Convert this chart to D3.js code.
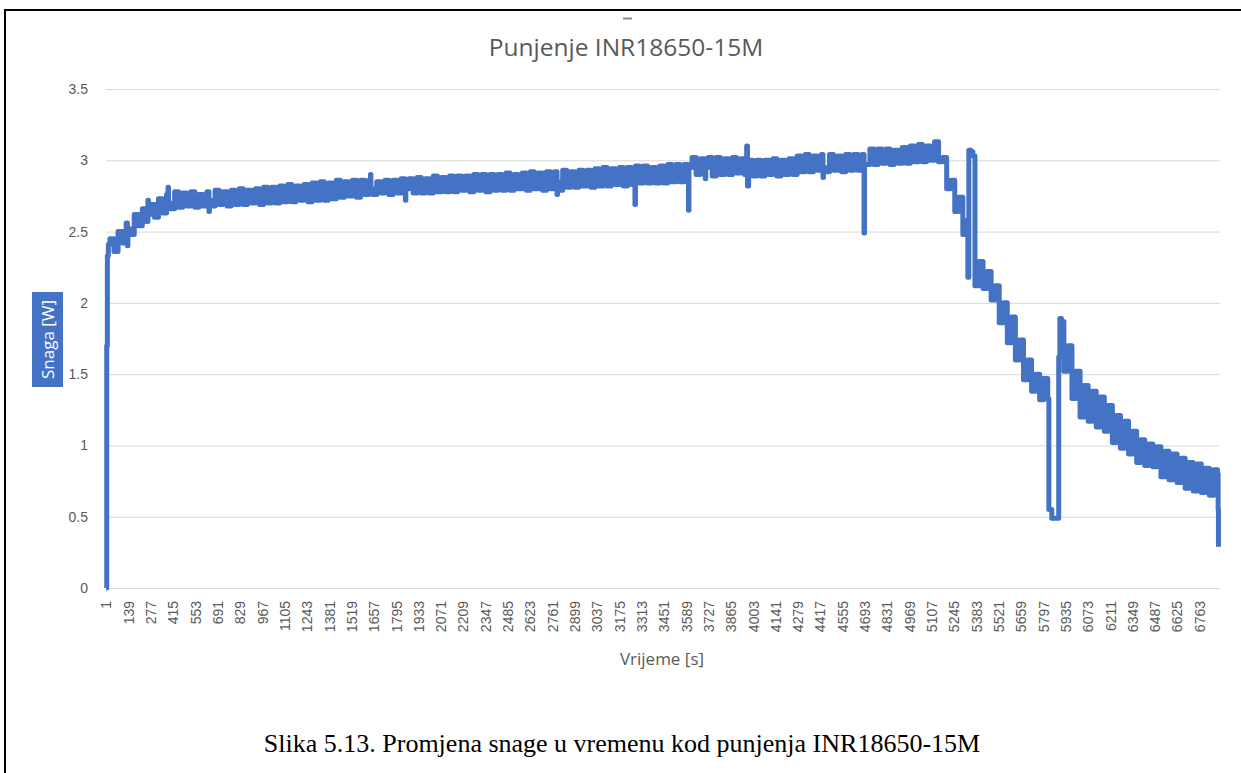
<!DOCTYPE html>
<html>
<head>
<meta charset="utf-8">
<script src="https://d3js.org/d3.v7.min.js"></script>
<style>
  body { margin: 0; background: #ffffff; }
  svg { display: block; font-family: "Open Sans", sans-serif; }
  .grid line { stroke: #d9d9d9; stroke-width: 1; }
  .tick text { fill: #595959; font-size: 14px; }
</style>
</head>
<body>
<svg id="chart" width="1241" height="773"></svg>
<script>
  // tekstovi
  const naslov = "Punjenje INR18650-15M"
  const nazivY = "Snaga [W]"
  const nazivX = "Vrijeme [s]"
  const opis = "Slika 5.13. Promjena snage u vremenu kod punjenja INR18650-15M"

  // x os je kategorijska: mjerenja 1..brojMjerenja
  const brojMjerenja = 6890
  const xOznake = [1, 139, 277, 415, 553, 691, 829, 967, 1105, 1243, 1381, 1519, 1657, 1795,
    1933, 2071, 2209, 2347, 2485, 2623, 2761, 2899, 3037, 3175, 3313, 3451, 3589, 3727,
    3865, 4003, 4141, 4279, 4417, 4555, 4693, 4831, 4969, 5107, 5245, 5383, 5521, 5659,
    5797, 5935, 6073, 6211, 6349, 6487, 6625, 6763]
  const yOznake = [0, 0.5, 1, 1.5, 2, 2.5, 3, 3.5]

  // ocitanja snage svakih 25 mjerenja (25, 50, ... 6875)
  const korak = 25
  const snaga = [
    2.45, 2.36, 2.50, 2.42, 2.56, 2.48, 2.62, 2.54,
    2.66, 2.57, 2.69, 2.60, 2.73, 2.63, 2.76, 2.66,
    2.78, 2.67, 2.77, 2.68, 2.78, 2.67, 2.76, 2.68,
    2.78, 2.68, 2.79, 2.69, 2.78, 2.68, 2.79, 2.69,
    2.80, 2.69, 2.79, 2.70, 2.80, 2.69, 2.81, 2.70,
    2.81, 2.70, 2.82, 2.71, 2.83, 2.71, 2.82, 2.72,
    2.83, 2.71, 2.84, 2.72, 2.85, 2.72, 2.84, 2.73,
    2.86, 2.74, 2.85, 2.75, 2.86, 2.74, 2.86, 2.76,
    2.86, 2.76, 2.85, 2.77, 2.86, 2.76, 2.86, 2.77,
    2.87, 2.76, 2.87, 2.77, 2.88, 2.77, 2.87, 2.77,
    2.89, 2.78, 2.88, 2.78, 2.89, 2.78, 2.89, 2.79,
    2.89, 2.78, 2.90, 2.79, 2.90, 2.78, 2.90, 2.79,
    2.90, 2.79, 2.91, 2.79, 2.90, 2.80, 2.91, 2.79,
    2.92, 2.80, 2.91, 2.79, 2.92, 2.80, 2.92, 2.79,
    2.93, 2.81, 2.92, 2.81, 2.93, 2.82, 2.93, 2.81,
    2.94, 2.82, 2.95, 2.82, 2.94, 2.83, 2.95, 2.82,
    2.95, 2.83, 2.96, 2.84, 2.96, 2.84, 2.95, 2.84,
    2.96, 2.84, 2.97, 2.85, 2.97, 2.85, 2.97, 2.86,
    3.02, 2.90, 3.01, 2.90, 3.02, 2.89, 3.02, 2.90,
    3.01, 2.90, 3.02, 2.91, 3.01, 2.90, 3.00, 2.89,
    3.00, 2.89, 3.00, 2.90, 3.01, 2.89, 3.00, 2.90,
    3.01, 2.90, 3.03, 2.92, 3.04, 2.92, 3.03, 2.93,
    3.04, 2.92, 3.04, 2.93, 3.03, 2.92, 3.04, 2.93,
    3.04, 2.93, 3.04, 2.97, 3.08, 2.97, 3.08, 2.98,
    3.08, 2.97, 3.07, 2.98, 3.09, 2.98, 3.10, 2.99,
    3.11, 2.99, 3.10, 3.00, 3.13, 2.99, 3.02, 2.80,
    2.86, 2.64, 2.74, 2.48, 2.58, 3.06, 2.12, 2.29,
    2.10, 2.22, 2.02, 2.12, 1.86, 2.00, 1.72, 1.90,
    1.60, 1.74, 1.46, 1.60, 1.38, 1.50, 1.32, 1.47,
    1.33, 0.49, 0.49, 1.89, 1.52, 1.70, 1.33, 1.52,
    1.20, 1.42, 1.17, 1.38, 1.13, 1.34, 1.10, 1.28,
    1.02, 1.21, 0.98, 1.17, 0.94, 1.10, 0.88, 1.04,
    0.86, 1.01, 0.85, 0.99, 0.78, 0.96, 0.76, 0.94,
    0.74, 0.91, 0.70, 0.88, 0.68, 0.87, 0.67, 0.84,
    0.65, 0.83, 0.80
  ]

  // pocetak, kratki skokovi i kraj, ocitani posebno
  const posebnoVrijeme = [1, 5, 9, 15, 133, 136, 260, 263, 384, 387, 637, 640, 1636, 1639,
    1852, 1855, 2790, 2793, 3272, 3603, 3606, 3707, 3710, 3963, 3968, 4435, 4438, 4689, 4692,
    5331, 5337, 5362, 5832, 5886, 5893, 5910, 6879, 6881]
  const posebnoSnaga = [0.00, 1.70, 2.33, 2.41, 2.40, 2.52, 2.72, 2.62, 2.81, 2.70, 2.64, 2.72, 2.90, 2.80,
    2.72, 2.80, 2.76, 2.85, 2.69, 2.65, 2.95, 2.87, 2.95, 3.10, 2.82, 2.88, 2.95, 2.49, 2.97,
    2.18, 3.07, 3.03, 0.55, 0.49, 1.62, 1.87, 0.55, 0.29]

  let podaci = snaga.map((s, i) => ({t: korak * (i + 1), p: s}))
    .concat(posebnoVrijeme.map((t, i) => ({t: t, p: posebnoSnaga[i]})))
    .sort((a, b) => a.t - b.t)

  let svg = d3.select("#chart")
  let plotLeft = 106, plotRight = 1220, plotTop = 89, plotBottom = 588

  let xScale = d3.scaleLinear()
    .domain([0.5, brojMjerenja + 0.5])
    .range([plotLeft, plotRight])
  let yScale = d3.scaleLinear()
    .domain([0, 3.5])
    .range([plotBottom, plotTop])

  svg.append("rect").attr("width", 1241).attr("height", 773).attr("fill", "#ffffff")

  // okvir stranice
  svg.append("line").attr("x1", 4).attr("x2", 1241).attr("y1", 10).attr("y2", 10)
    .attr("stroke", "#000").attr("stroke-width", 2)
  svg.append("line").attr("x1", 5).attr("x2", 5).attr("y1", 9).attr("y2", 773)
    .attr("stroke", "#000").attr("stroke-width", 2)
  svg.append("line").attr("x1", 623).attr("x2", 632).attr("y1", 18.5).attr("y2", 18.5)
    .attr("stroke", "#8c8c8c").attr("stroke-width", 2)

  // mreza i y os
  let yAxis = svg.append("g")
    .attr("class", "grid")
    .attr("transform", `translate(${plotLeft},0)`)
    .call(d3.axisLeft(yScale).tickValues(yOznake).tickSize(-(plotRight - plotLeft)).tickPadding(18)
      .tickFormat(d => String(d)))
  yAxis.select(".domain").remove()

  // x os
  let xAxis = svg.append("g")
    .attr("transform", `translate(0,${plotBottom})`)
    .call(d3.axisBottom(xScale).tickValues(xOznake).tickSize(0).tickFormat(d3.format("d")))
  xAxis.select(".domain").remove()
  xAxis.selectAll("text")
    .attr("y", 0)
    .attr("x", -13)
    .attr("dy", "0.35em")
    .attr("transform", "rotate(-90)")
    .style("text-anchor", "end")

  // krivulja
  let linija = d3.line()
    .x(d => xScale(d.t))
    .y(d => yScale(d.p))
    .curve(d3.curveStepAfter)

  svg.append("path")
    .datum(podaci)
    .attr("d", linija)
    .attr("fill", "none")
    .attr("stroke", "#4472c4")
    .attr("stroke-width", 5)
    .attr("stroke-linejoin", "round")

  // naslovi
  svg.append("text")
    .attr("x", 626).attr("y", 56)
    .attr("text-anchor", "middle")
    .attr("fill", "#595959")
    .style("font-size", "24.5px")
    .text(naslov)

  svg.append("rect")
    .attr("x", 32).attr("y", 292).attr("width", 31).attr("height", 95)
    .attr("fill", "#4472c4")
  svg.append("text")
    .attr("transform", "translate(48,339.5) rotate(-90)")
    .attr("text-anchor", "middle")
    .attr("dy", "0.35em")
    .attr("fill", "#ffffff")
    .style("font-size", "17px")
    .text(nazivY)

  svg.append("text")
    .attr("x", 662).attr("y", 665)
    .attr("text-anchor", "middle")
    .attr("fill", "#595959")
    .style("font-size", "17px")
    .text(nazivX)

  svg.append("text")
    .attr("x", 622).attr("y", 752)
    .attr("text-anchor", "middle")
    .attr("fill", "#000")
    .style("font-family", "'Liberation Serif', 'Times New Roman', serif")
    .style("font-size", "26px")
    .text(opis)
</script>
</body>
</html>
